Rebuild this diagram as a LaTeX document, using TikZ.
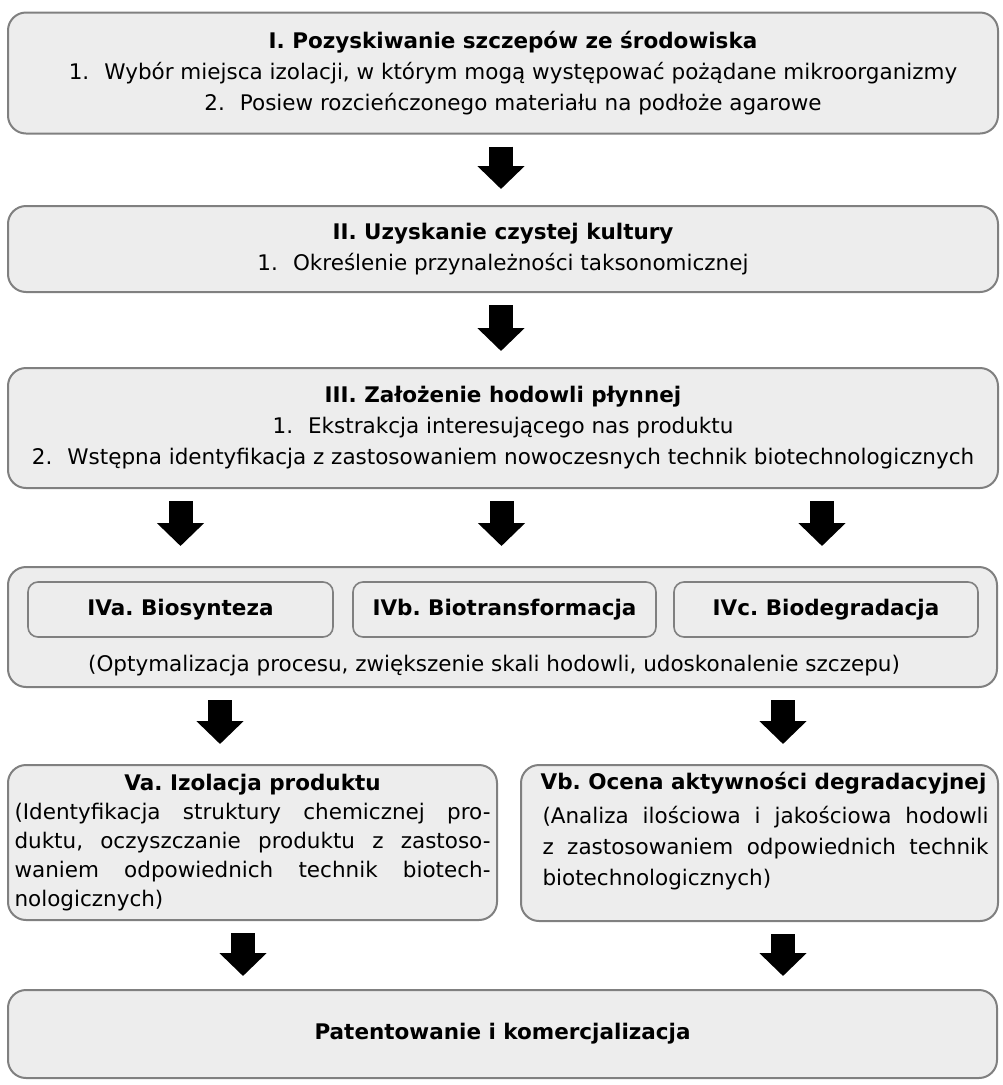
\documentclass[tikz,border=0pt]{standalone}
\usepackage{fontspec}
\setmainfont{DejaVu Sans}
\usetikzlibrary{arrows.meta,positioning}
\frenchspacing

\definecolor{boxfill}{HTML}{EDEDED}
\definecolor{boxline}{HTML}{808080}

\tikzset{
  stage/.style={draw=boxline, line width=2pt, fill=boxfill, rounded corners=18pt, inner sep=0pt},
  substage/.style={stage, rounded corners=10pt, line width=1.6pt},
  txt/.style={font=\fontsize{21.5}{31}\selectfont, inner sep=0pt, align=center},
  btxt/.style={txt, font=\fontsize{21.5}{31}\selectfont\bfseries},
  bigarrow/.style={line width=24pt, -{Triangle[width=46pt,length=23pt]}, shorten <=12pt, shorten >=16pt},
}

\begin{document}
\begin{tikzpicture}[x=1pt, y=-1pt]
    \useasboundingbox (0,0) rectangle (1002,1085);

    % Stages I - III
    \node [stage, minimum width=990pt, minimum height=121pt] (st1) at (503,73) {};
    \node [txt] (t1) at ([xshift=10pt]st1.center)
        {\textbf{I. Pozyskiwanie szczepów ze środowiska}\\
         1.\hspace{0.7em}Wybór miejsca izolacji, w którym mogą występować pożądane mikroorganizmy\\
         2.\hspace{0.7em}Posiew rozcieńczonego materiału na podłoże agarowe};

    \node [stage, minimum width=990pt, minimum height=86pt] (st2) at (503,249) {};
    \node [txt] (t2) at (st2.center)
        {\textbf{II. Uzyskanie czystej kultury}\\
         1.\hspace{0.7em}Określenie przynależności taksonomicznej};

    \node [stage, minimum width=990pt, minimum height=120pt] (st3) at (503,428) {};
    \node [txt] (t3) at (st3.center)
        {\textbf{III. Założenie hodowli płynnej}\\
         1.\hspace{0.7em}Ekstrakcja interesującego nas produktu\\
         2.\hspace{0.7em}Wstępna identyfikacja z zastosowaniem nowoczesnych technik biotechnologicznych};

    % Stage IV
    \node [stage, minimum width=989pt, minimum height=120pt] (st4) at (502.5,627) {};
    \node [substage, minimum width=305pt, minimum height=55pt] (iva) at (180.5,609.5) {};
    \node [substage, minimum width=303pt, minimum height=55pt] (ivb) at (504.5,609.5) {};
    \node [substage, minimum width=304pt, minimum height=55pt] (ivc) at (826,609.5) {};
    \node [btxt] at (iva.center) {IVa. Biosynteza};
    \node [btxt] at (ivb.center) {IVb. Biotransformacja};
    \node [btxt] at (ivc.center) {IVc. Biodegradacja};
    \node [txt] (t4) at (494,666) {(Optymalizacja procesu, zwiększenie skali hodowli, udoskonalenie szczepu)};

    % Stage V
    \node [stage, minimum width=489pt, minimum height=155pt] (va) at (252.5,842.5) {};
    \node [txt, font=\fontsize{21.5}{29}\selectfont, text width=476pt, align=justify, anchor=north]
        (tva) at ([yshift=-10pt]va.north)
        {{\centering\bfseries Va. Izolacja produktu\par}
         (Identyfikacja struktury chemicznej pro-\linebreak
         duktu, oczyszczanie produktu z zastoso-\linebreak
         waniem odpowiednich technik biotech-\linebreak
         nologicznych)};

    \node [stage, minimum width=477pt, minimum height=156pt] (vb) at (759.5,843) {};
    \node [btxt, anchor=north] (hvb) at ([xshift=4pt, yshift=-8pt]vb.north)
        {Vb. Ocena aktywności degradacyjnej};
    \node [txt, text width=446pt, align=justify, anchor=north] (tvb) at ([xshift=6pt, yshift=-42pt]vb.north)
        {(Analiza ilościowa i jakościowa hodowli\linebreak
         z zastosowaniem odpowiednich technik\linebreak
         biotechnologicznych)};

    % Final stage
    \node [stage, minimum width=989pt, minimum height=88pt] (st6) at (502.5,1034) {};
    \node [btxt] (t6) at (st6.center) {Patentowanie i komercjalizacja};

    % arrow columns
    \coordinate (c1) at (220,0);
    \coordinate (c2) at (783,0);
    \coordinate (c3) at (243,0);

    % Arrows
    \draw [bigarrow] ([xshift=-2pt]st1.south) -- ([xshift=-2pt]st2.north);
    \draw [bigarrow] ([xshift=-2pt]st2.south) -- ([xshift=-2pt]st3.north);
    \draw [bigarrow, shorten >=20pt] (iva |- st3.south) -- (iva |- st4.north);
    \draw [bigarrow, shorten >=20pt] ([xshift=-3pt]ivb |- st3.south) -- ([xshift=-3pt]ivb |- st4.north);
    \draw [bigarrow, shorten >=20pt] ([xshift=-4pt]ivc |- st3.south) -- ([xshift=-4pt]ivc |- st4.north);
    \draw [bigarrow, shorten >=20pt] (c1 |- st4.south) -- (c1 |- va.north);
    \draw [bigarrow, shorten >=20pt] (c2 |- st4.south) -- (c2 |- vb.north);
    \draw [bigarrow, shorten >=13pt] (c3 |- va.south) -- (c3 |- st6.north);
    \draw [bigarrow, shorten >=13pt] (c2 |- vb.south) -- (c2 |- st6.north);

\end{tikzpicture}
\end{document}
